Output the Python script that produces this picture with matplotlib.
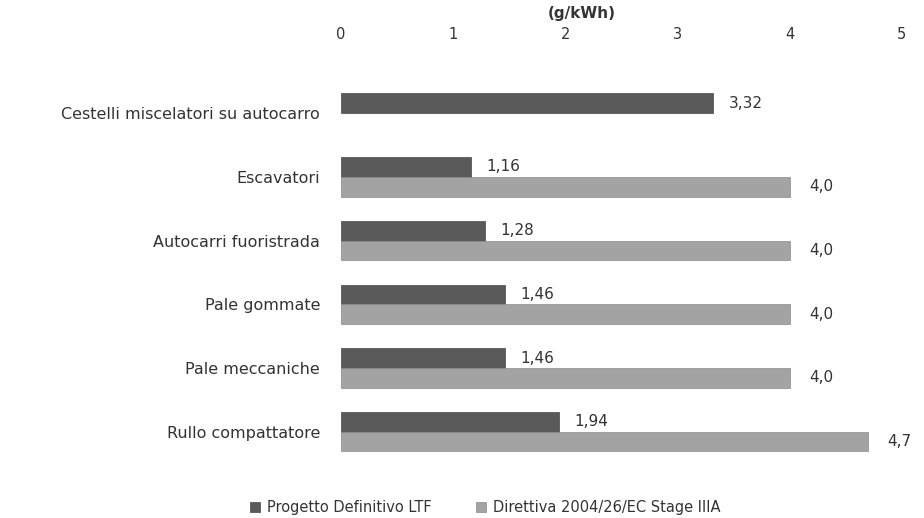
import numpy as np
import matplotlib.pyplot as plt

# categorie e valori (g/kWh)
categorie = ['Cestelli miscelatori su autocarro', 'Escavatori', 'Autocarri fuoristrada',
             'Pale gommate', 'Pale meccaniche', 'Rullo compattatore']
progetto = [3.32, 1.16, 1.28, 1.46, 1.46, 1.94]
direttiva = [np.nan, 4.0, 4.0, 4.0, 4.0, 4.7]
etich_progetto = ['3,32', '1,16', '1,28', '1,46', '1,46', '1,94']
etich_direttiva = ['', '4,0', '4,0', '4,0', '4,0', '4,7']
serie = ['Progetto Definitivo LTF', 'Direttiva 2004/26/EC Stage IIIA']
x_ticks = [0, 1, 2, 3, 4, 5]

plt.rcParams['font.family'] = ['DejaVu Sans']

fig = plt.figure(figsize=(9.24, 5.18), dpi=100)
ax = fig.add_axes([0.369, 0.0927, 0.607, 0.812])

y = np.arange(len(categorie))
h = 0.31
col_scuro = '#5a5a5a'
col_chiaro = '#a3a3a3'

b1 = ax.barh(y - h / 2, progetto, height=h, color=col_scuro, edgecolor='#474747', linewidth=0.5)
b2 = ax.barh(y + h / 2, direttiva, height=h, color=col_chiaro, edgecolor='#8a8a8a', linewidth=0.5)

# etichette dei valori
for i in range(len(categorie)):
    ax.annotate(etich_progetto[i], (progetto[i], y[i] - h / 2), xytext=(11, 0),
                textcoords='offset points', va='center', ha='left', fontsize=11, color='#333333')
    if not np.isnan(direttiva[i]):
        ax.annotate(etich_direttiva[i], (direttiva[i], y[i] + h / 2), xytext=(14, 0),
                    textcoords='offset points', va='center', ha='left', fontsize=11, color='#333333')

ax.set_xlim(0, 5)
ax.set_ylim(5.6, -1.0)
ax.set_yticks(y)
ax.set_yticklabels(categorie, fontsize=11.5, color='#333333')
ax.set_xticks(x_ticks)
ax.set_xticklabels([str(t) for t in x_ticks], fontsize=10.5, color='#333333')
ax.xaxis.tick_top()
ax.tick_params(axis='both', length=0)
ax.tick_params(axis='y', pad=15)
ax.tick_params(axis='x', pad=5)
for s in ax.spines.values():
    s.set_visible(False)

fig.text(0.63, 0.973, '(g/kWh)', ha='center', va='center', fontsize=11, fontweight='bold', color='#333333')

fig.legend([b1, b2], serie, loc='center', bbox_to_anchor=(0.525, 0.02), ncol=2, frameon=False,
           fontsize=10.5, handlelength=0.7, handleheight=0.7, columnspacing=3.0, handletextpad=0.5,
           labelcolor='#333333')

fig.savefig('out.png', dpi=100)
